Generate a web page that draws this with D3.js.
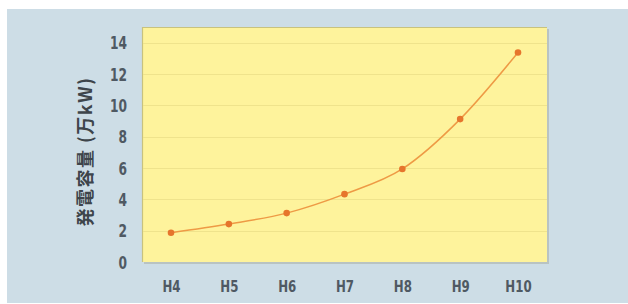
<!DOCTYPE html>
<html>
<head>
<meta charset="utf-8">
<script src="https://cdn.jsdelivr.net/npm/d3@7"></script>
<style>
  body { margin: 0; background: #fff; }
  .tick text { font-family: "Liberation Sans Narrow", "DejaVu Sans Condensed", sans-serif; font-weight: bold; fill: #4f5963; }
</style>
</head>
<body>
<div id="chart"></div>
<script>
// 年度ごとの発電容量
const years = ['H4', 'H5', 'H6', 'H7', 'H8', 'H9', 'H10'];
const capacity = [1.87, 2.42, 3.12, 4.33, 5.94, 9.12, 13.37];
const yTicks = [0, 2, 4, 6, 8, 10, 12, 14];
const yLabel = '発電容量 (万kW)';

const width = 628, height = 304;
const plot = { left: 142, top: 27, right: 547, bottom: 262 };

const svg = d3.select('#chart').append('svg')
    .attr('width', width)
    .attr('height', height);

// panel background
svg.append('rect')
    .attr('x', 7).attr('y', 9)
    .attr('width', width - 7).attr('height', 294)
    .attr('fill', '#cddde6');

// shadow on right / bottom
svg.append('rect')
    .attr('x', plot.left + 2).attr('y', plot.top + 2)
    .attr('width', plot.right - plot.left).attr('height', plot.bottom - plot.top)
    .attr('fill', '#b9c3c2');

svg.append('rect')
    .attr('x', plot.left).attr('y', plot.top)
    .attr('width', plot.right - plot.left).attr('height', plot.bottom - plot.top)
    .attr('fill', '#fef39c');

// left / top edge
svg.append('path')
    .attr('d', `M${plot.left + 0.5},${plot.bottom}V${plot.top + 0.5}H${plot.right}`)
    .attr('fill', 'none')
    .attr('stroke', '#c8c27e')
    .attr('stroke-width', 1.2);

let x = d3.scalePoint()
    .domain(years)
    .range([171, 518]);

let y = d3.scaleLinear()
    .domain([0, 15])
    .range([plot.bottom, plot.top]);

// grid
svg.append('g')
    .selectAll('line')
    .data(yTicks.filter(d => d > 0))
    .enter().append('line')
    .attr('x1', plot.left + 1)
    .attr('x2', plot.right)
    .attr('y1', d => Math.round(y(d)) + 0.5)
    .attr('y2', d => Math.round(y(d)) + 0.5)
    .attr('stroke', '#efe38c')
    .attr('stroke-width', 1);

let yAxis = svg.append('g')
    .attr('transform', `translate(${plot.left - 15},0)`)
    .call(d3.axisLeft(y).tickValues(yTicks).tickSize(0).tickPadding(0));
yAxis.select('.domain').remove();
yAxis.selectAll('text')
    .attr('font-size', 17)
    .attr('dy', '0.36em')
    .attr('transform', 'scale(0.8,1)');

let xAxis = svg.append('g')
    .attr('transform', `translate(0,${plot.bottom})`)
    .call(d3.axisBottom(x).tickSize(0).tickPadding(19));
xAxis.select('.domain').remove();
xAxis.selectAll('text')
    .attr('font-size', 16)
    .attr('dy', '0.71em')
    .attr('transform', 'scale(0.82,1)');

svg.append('text')
    .text(yLabel)
    .attr('transform', `translate(92,${(75 + 228) / 2}) rotate(-90)`)
    .attr('text-anchor', 'middle')
    .attr('font-family', '"Noto Sans CJK JP", sans-serif')
    .attr('font-weight', 'bold')
    .attr('font-size', 18)
    .attr('letter-spacing', 1.5)
    .attr('fill', '#3e454b');

let line = d3.line()
    .x((d, i) => x(years[i]))
    .y(d => y(d))
    .curve(d3.curveMonotoneX);

svg.append('path')
    .datum(capacity)
    .attr('d', line)
    .attr('fill', 'none')
    .attr('stroke', '#ee9a45')
    .attr('stroke-width', 1.5);

svg.append('g')
    .selectAll('circle')
    .data(capacity)
    .enter().append('circle')
    .attr('cx', (d, i) => x(years[i]))
    .attr('cy', d => y(d))
    .attr('r', 3.3)
    .attr('fill', '#e6752c');
</script>
</body>
</html>
